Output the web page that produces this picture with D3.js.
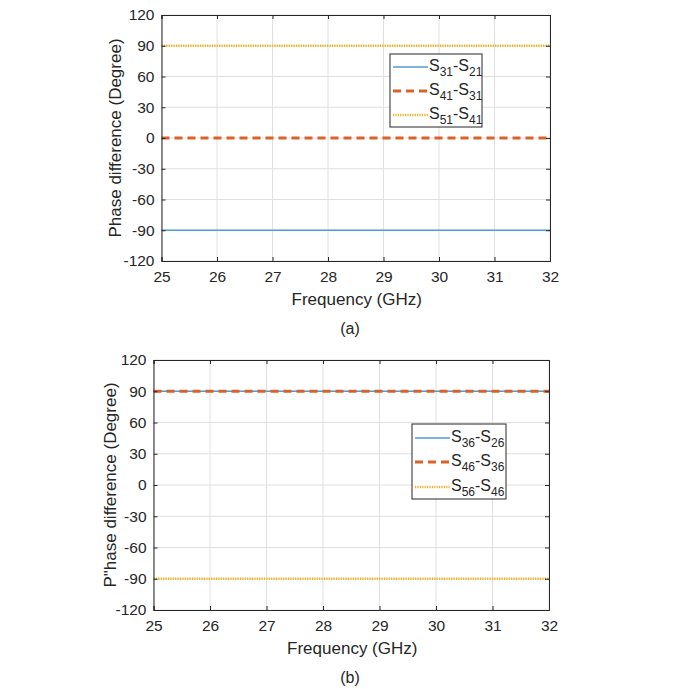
<!DOCTYPE html>
<html><head><meta charset="utf-8">
<script src="https://cdn.jsdelivr.net/npm/d3@7"></script>
<style>
body{margin:0;background:#fff;}
svg text{font-family:"Liberation Sans",Arial,sans-serif;fill:#262626;}
</style></head>
<body>
<svg id="c" width="673" height="689"></svg>
<script>
const freqs = [25, 26, 27, 28, 29, 30, 31, 32];
const xTicks = [25, 26, 27, 28, 29, 30, 31, 32];
const yTicks = [-120, -90, -60, -30, 0, 30, 60, 90, 120];

// panel (a)
const aS31S21 = [-90, -90, -90, -90, -90, -90, -90, -90];
const aS41S31 = [0, 0, 0, 0, 0, 0, 0, 0];
const aS51S41 = [90, 90, 90, 90, 90, 90, 90, 90];
// panel (b)
const bS36S26 = [90, 90, 90, 90, 90, 90, 90, 90];
const bS46S36 = [90, 90, 90, 90, 90, 90, 90, 90];
const bS56S46 = [-90, -90, -90, -90, -90, -90, -90, -90];

const colors = ["#4f9bd3", "#d9622b", "#edb120"];

const panels = [
  {left:161.5, right:550, top:15, bottom:261, ylabel:"Phase difference (Degree)", ylabelX:115, tag:"(a)",
   series:[
     {n1:"31",n2:"21",vals:aS31S21,style:0},
     {n1:"41",n2:"31",vals:aS41S31,style:1},
     {n1:"51",n2:"41",vals:aS51S41,style:2}],
   legend:{x:390,y:54,w:92,h:73,rows:[67,91,115]}},
  {left:153.5, right:549, top:360, bottom:610, ylabel:"P\"hase difference (Degree)", ylabelX:110, tag:"(b)",
   series:[
     {n1:"36",n2:"26",vals:bS36S26,style:0},
     {n1:"46",n2:"36",vals:bS46S36,style:1},
     {n1:"56",n2:"46",vals:bS56S46,style:2}],
   legend:{x:412,y:424,w:94,h:75,rows:[438,462,487]}}
];

const svg = d3.select("#c");

function applyStyle(sel, style){
  sel.attr("stroke", colors[style]).attr("fill","none");
  if(style===0) sel.attr("stroke-width",1.3);
  if(style===1) sel.attr("stroke-width",3).attr("stroke-dasharray","8,5");
  if(style===2) sel.attr("stroke-width",2.5).attr("stroke-dasharray","1.2,1.2");
}

panels.forEach(p=>{
  const x = d3.scaleLinear().domain([25,32]).range([p.left,p.right]);
  const y = d3.scaleLinear().domain([-120,120]).range([p.bottom,p.top]);
  const g = svg.append("g");

  // grid
  g.selectAll(".vg").data(xTicks).enter().append("line")
    .attr("x1",d=>x(d)).attr("x2",d=>x(d)).attr("y1",p.top).attr("y2",p.bottom)
    .attr("stroke","#e0e0e0").attr("stroke-width",1);
  g.selectAll(".hg").data(yTicks).enter().append("line")
    .attr("y1",d=>y(d)).attr("y2",d=>y(d)).attr("x1",p.left).attr("x2",p.right)
    .attr("stroke","#e0e0e0").attr("stroke-width",1);

  // lines
  const line = d3.line().x((d,i)=>x(freqs[i])).y(d=>y(d));
  p.series.forEach(s=>{
    g.append("path").datum(s.vals).attr("d",line).call(applyStyle, s.style);
  });

  // axes
  const fmt = d => String(d);
  const xa = g.append("g").attr("transform",`translate(0,${p.bottom})`)
    .call(d3.axisBottom(x).tickValues(xTicks).tickSize(-4).tickPadding(10).tickFormat(fmt));
  const xt = g.append("g").attr("transform",`translate(0,${p.top})`)
    .call(d3.axisTop(x).tickValues(xTicks).tickSize(-4).tickFormat(""));
  const ya = g.append("g").attr("transform",`translate(${p.left},0)`)
    .call(d3.axisLeft(y).tickValues(yTicks).tickSize(-4).tickPadding(7).tickFormat(fmt));
  const yr = g.append("g").attr("transform",`translate(${p.right},0)`)
    .call(d3.axisRight(y).tickValues(yTicks).tickSize(-4).tickFormat(""));
  [xa,xt,ya,yr].forEach(a=>{
    a.select(".domain").attr("stroke","#262626").attr("stroke-width",1);
    a.selectAll(".tick line").attr("stroke","#262626");
    a.selectAll("text").style("font-size","15.5px").attr("fill","#262626")
      .style("font-family","'Liberation Sans',Arial,sans-serif");
  });

  // axis labels
  g.append("text").attr("x",(p.left+p.right)/2+1).attr("y",p.bottom+44)
    .attr("text-anchor","middle").style("font-size","17px").text("Frequency (GHz)");
  g.append("text").attr("transform",`translate(${p.ylabelX},${(p.top+p.bottom)/2}) rotate(-90)`)
    .attr("text-anchor","middle").attr("dy","0.35em").style("font-size","17px").text(p.ylabel);
  g.append("text").attr("x",350).attr("y",p.bottom+73)
    .attr("text-anchor","middle").style("font-size","16px").text(p.tag);

  // legend
  const L = p.legend;
  g.append("rect").attr("x",L.x).attr("y",L.y).attr("width",L.w).attr("height",L.h)
    .attr("fill","#fff").attr("stroke","#262626").attr("stroke-width",1);
  p.series.forEach((s,i)=>{
    const ry = L.rows[i];
    g.append("line").attr("x1",L.x+3).attr("x2",L.x+38).attr("y1",ry).attr("y2",ry).call(applyStyle,s.style);
    const t = g.append("text").attr("x",L.x+39).attr("y",ry+4).style("font-size","16px");
    t.append("tspan").text("S");
    t.append("tspan").attr("dy",5).style("font-size","12px").text(s.n1);
    t.append("tspan").attr("dy",-5).text("-S");
    t.append("tspan").attr("dy",5).style("font-size","12px").text(s.n2);
  });
});
</script>
</body></html>
